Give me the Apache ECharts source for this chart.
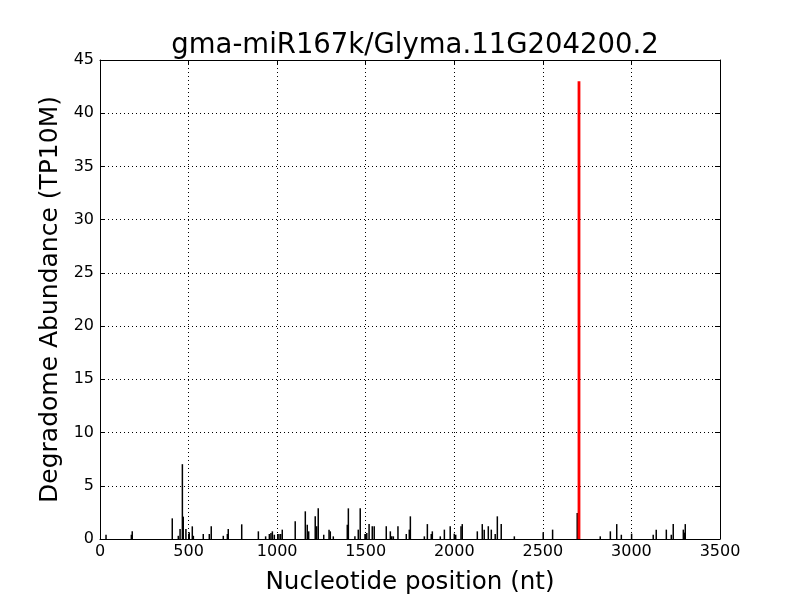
<!DOCTYPE html>
<html>
<head>
<meta charset="utf-8">
<script src="https://cdn.jsdelivr.net/npm/echarts@6/dist/echarts.min.js"></script>
<style>html,body{margin:0;padding:0;background:#fff}#c{width:800px;height:600px}</style>
</head>
<body>
<div id="c"></div>
<script>
const title = "gma-miR167k/Glyma.11G204200.2";
const xLabel = "Nucleotide position (nt)";
const yLabel = "Degradome Abundance (TP10M)";
const positions = [34,177,182,408,442,452,465,470,485,504,521,527,583,617,628,696,719,724,800,894,
  935,956,965,973,984,1010,1020,1029,1102,1159,1170,1178,1215,1223,1232,1263,1293,1300,1317,1396,1402,
  1439,1458,1469,1496,1506,1519,1537,1548,1616,1639,1647,1656,1682,1729,1746,1752,1831,1848,1870,1876,
  1921,1944,1977,2000,2008,2038,2045,2130,2158,2169,2192,2209,2231,2243,2265,2339,2502,2555,2694,
  2824,2881,2917,2943,3001,3123,3140,3197,3225,3236,3293,3299,3304];
const abundance = [0.4,0.4,0.72,1.94,0.3,0.94,7.03,2.1,0.94,0.63,1.19,0.3,0.47,0.47,1.19,0.3,0.47,0.94,1.38,0.72,
  0.25,0.47,0.56,0.72,0.4,0.47,0.47,0.88,1.66,2.6,1.34,0.72,2.13,1.2,2.88,0.4,0.88,0.72,0.25,1.34,2.88,
  0.25,0.88,2.88,0.47,0.56,1.4,1.2,1.2,1.2,0.72,0.25,0.25,1.2,0.47,0.88,2.13,0.25,1.4,0.47,0.72,
  0.25,0.88,1.2,0.5,0.4,1.2,1.4,0.72,1.4,0.88,1.2,0.88,0.47,2.13,1.4,0.25,0.63,0.88,2.44,
  0.25,0.72,1.4,0.4,0.5,0.4,0.88,0.88,0.4,1.4,0.88,0.6,1.4];
const targetPos = [2704];
const targetVal = [43.0];
const xTicks = [0,500,1000,1500,2000,2500,3000,3500];
const yTicks = [0,5,10,15,20,25,30,35,40,45];

const font = "DejaVu Sans";
function lineSeries(pos, val, color, w) {
  return {
    type: 'custom',
    xAxisIndex: 0, yAxisIndex: 0,
    data: pos.map((p, i) => [p, val[i]]),
    renderItem: function (params, api) {
      const top = api.coord([api.value(0), api.value(1)]);
      const bot = api.coord([api.value(0), 0]);
      return {
        type: 'line',
        shape: { x1: top[0], y1: top[1], x2: bot[0], y2: bot[1] },
        style: { stroke: color, lineWidth: w }
      };
    },
    z: 5
  };
}
const chart = echarts.init(document.getElementById('c'), null, { renderer: 'canvas' });
const axisCommon = {
  type: 'value',
  axisLine: { show: true, onZero: false, lineStyle: { color: '#000', width: 1 } },
  axisTick: { show: true, inside: true, length: 5, lineStyle: { color: '#000' } }
};
const fmt = v => String(v);
chart.setOption({
  animation: false,
  backgroundColor: '#fff',
  title: {
    text: title, left: 410, top: 27, textAlign: 'center',
    textStyle: { fontFamily: font, fontSize: 27.5, fontWeight: 'normal', color: '#000' }
  },
  grid: { left: 100, right: 80, top: 60, bottom: 60, show: false },
  xAxis: [
    Object.assign({}, axisCommon, {
      min: xTicks[0], max: xTicks[xTicks.length - 1], interval: 500, position: 'bottom',
      name: xLabel, nameLocation: 'middle', nameGap: 31,
      nameTextStyle: { fontFamily: font, fontSize: 24.6, color: '#000' },
      axisLabel: { fontFamily: font, fontSize: 16, color: '#000', margin: 5, formatter: fmt },
      splitLine: { show: true, lineStyle: { color: '#000', type: [1, 3], width: 1 } }
    }),
    Object.assign({}, axisCommon, {
      min: xTicks[0], max: xTicks[xTicks.length - 1], interval: 500, position: 'top',
      axisLabel: { show: false }, splitLine: { show: false }
    })
  ],
  yAxis: [
    Object.assign({}, axisCommon, {
      min: yTicks[0], max: yTicks[yTicks.length - 1], interval: 5, position: 'left',
      name: yLabel, nameLocation: 'middle', nameGap: 34,
      nameTextStyle: { fontFamily: font, fontSize: 25, color: '#000' },
      axisLabel: { fontFamily: font, fontSize: 16, color: '#000', margin: 6, formatter: fmt },
      splitLine: { show: true, lineStyle: { color: '#000', type: [1, 3], width: 1 } }
    }),
    Object.assign({}, axisCommon, {
      min: yTicks[0], max: yTicks[yTicks.length - 1], interval: 5, position: 'right',
      axisLabel: { show: false }, splitLine: { show: false }
    })
  ],
  series: [
    lineSeries(positions, abundance, '#000', 1.5),
    lineSeries(targetPos, targetVal, '#ff0000', 2.8)
  ]
});
</script>
</body>
</html>
